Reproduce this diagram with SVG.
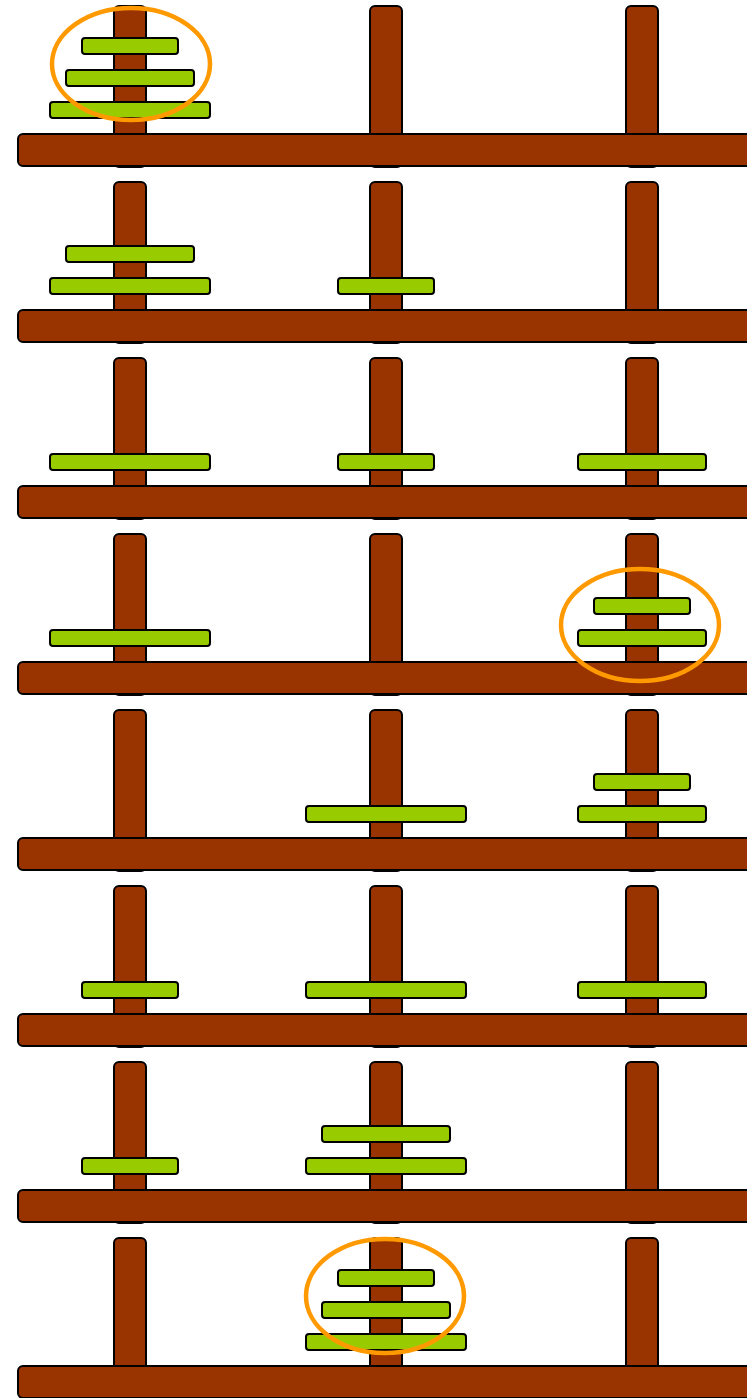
<svg xmlns="http://www.w3.org/2000/svg" xmlns:xlink="http://www.w3.org/1999/xlink" width="747" height="1398" viewBox="0 0 747 1398">
<style>
.peg{fill:#993300;stroke:#000;stroke-width:2}
.base{fill:#993300;stroke:#000;stroke-width:2}
.disk{fill:#99cc00;stroke:#000;stroke-width:2}
.hl{fill:none;stroke:#ff9900;stroke-width:4.5}
</style>
<defs>
<g id="stand">
<rect class="peg" x="114" y="6" width="32" height="161" rx="5"/>
<rect class="peg" x="370" y="6" width="32" height="161" rx="5"/>
<rect class="peg" x="626" y="6" width="32" height="161" rx="5"/>
<rect class="base" x="18" y="134" width="760" height="32" rx="5"/>
</g>
<rect id="d1" class="disk" x="-48" y="0" width="96" height="16" rx="3"/>
<rect id="d2" class="disk" x="-64" y="0" width="128" height="16" rx="3"/>
<rect id="d3" class="disk" x="-80" y="0" width="160" height="16" rx="3"/>
</defs>
<rect width="747" height="1398" fill="#fff"/>
<g id="row1">
<use xlink:href="#stand"/>
<use xlink:href="#d1" x="130" y="38"/><use xlink:href="#d2" x="130" y="70"/><use xlink:href="#d3" x="130" y="102"/>
<ellipse class="hl" cx="131" cy="64" rx="79" ry="56"/>
</g>
<g id="row2" transform="translate(0,176)">
<use xlink:href="#stand"/>
<use xlink:href="#d2" x="130" y="70"/><use xlink:href="#d3" x="130" y="102"/>
<use xlink:href="#d1" x="386" y="102"/>
</g>
<g id="row3" transform="translate(0,352)">
<use xlink:href="#stand"/>
<use xlink:href="#d3" x="130" y="102"/>
<use xlink:href="#d1" x="386" y="102"/>
<use xlink:href="#d2" x="642" y="102"/>
</g>
<g id="row4" transform="translate(0,528)">
<use xlink:href="#stand"/>
<use xlink:href="#d3" x="130" y="102"/>
<use xlink:href="#d1" x="642" y="70"/><use xlink:href="#d2" x="642" y="102"/>
<ellipse class="hl" cx="640" cy="97" rx="79" ry="56"/>
</g>
<g id="row5" transform="translate(0,704)">
<use xlink:href="#stand"/>
<use xlink:href="#d3" x="386" y="102"/>
<use xlink:href="#d1" x="642" y="70"/><use xlink:href="#d2" x="642" y="102"/>
</g>
<g id="row6" transform="translate(0,880)">
<use xlink:href="#stand"/>
<use xlink:href="#d1" x="130" y="102"/>
<use xlink:href="#d3" x="386" y="102"/>
<use xlink:href="#d2" x="642" y="102"/>
</g>
<g id="row7" transform="translate(0,1056)">
<use xlink:href="#stand"/>
<use xlink:href="#d1" x="130" y="102"/>
<use xlink:href="#d2" x="386" y="70"/><use xlink:href="#d3" x="386" y="102"/>
</g>
<g id="row8" transform="translate(0,1232)">
<use xlink:href="#stand"/>
<use xlink:href="#d1" x="386" y="38"/><use xlink:href="#d2" x="386" y="70"/><use xlink:href="#d3" x="386" y="102"/>
<ellipse class="hl" cx="385" cy="64" rx="79" ry="57"/>
</g>
<g id="connectors"/>
</svg>
